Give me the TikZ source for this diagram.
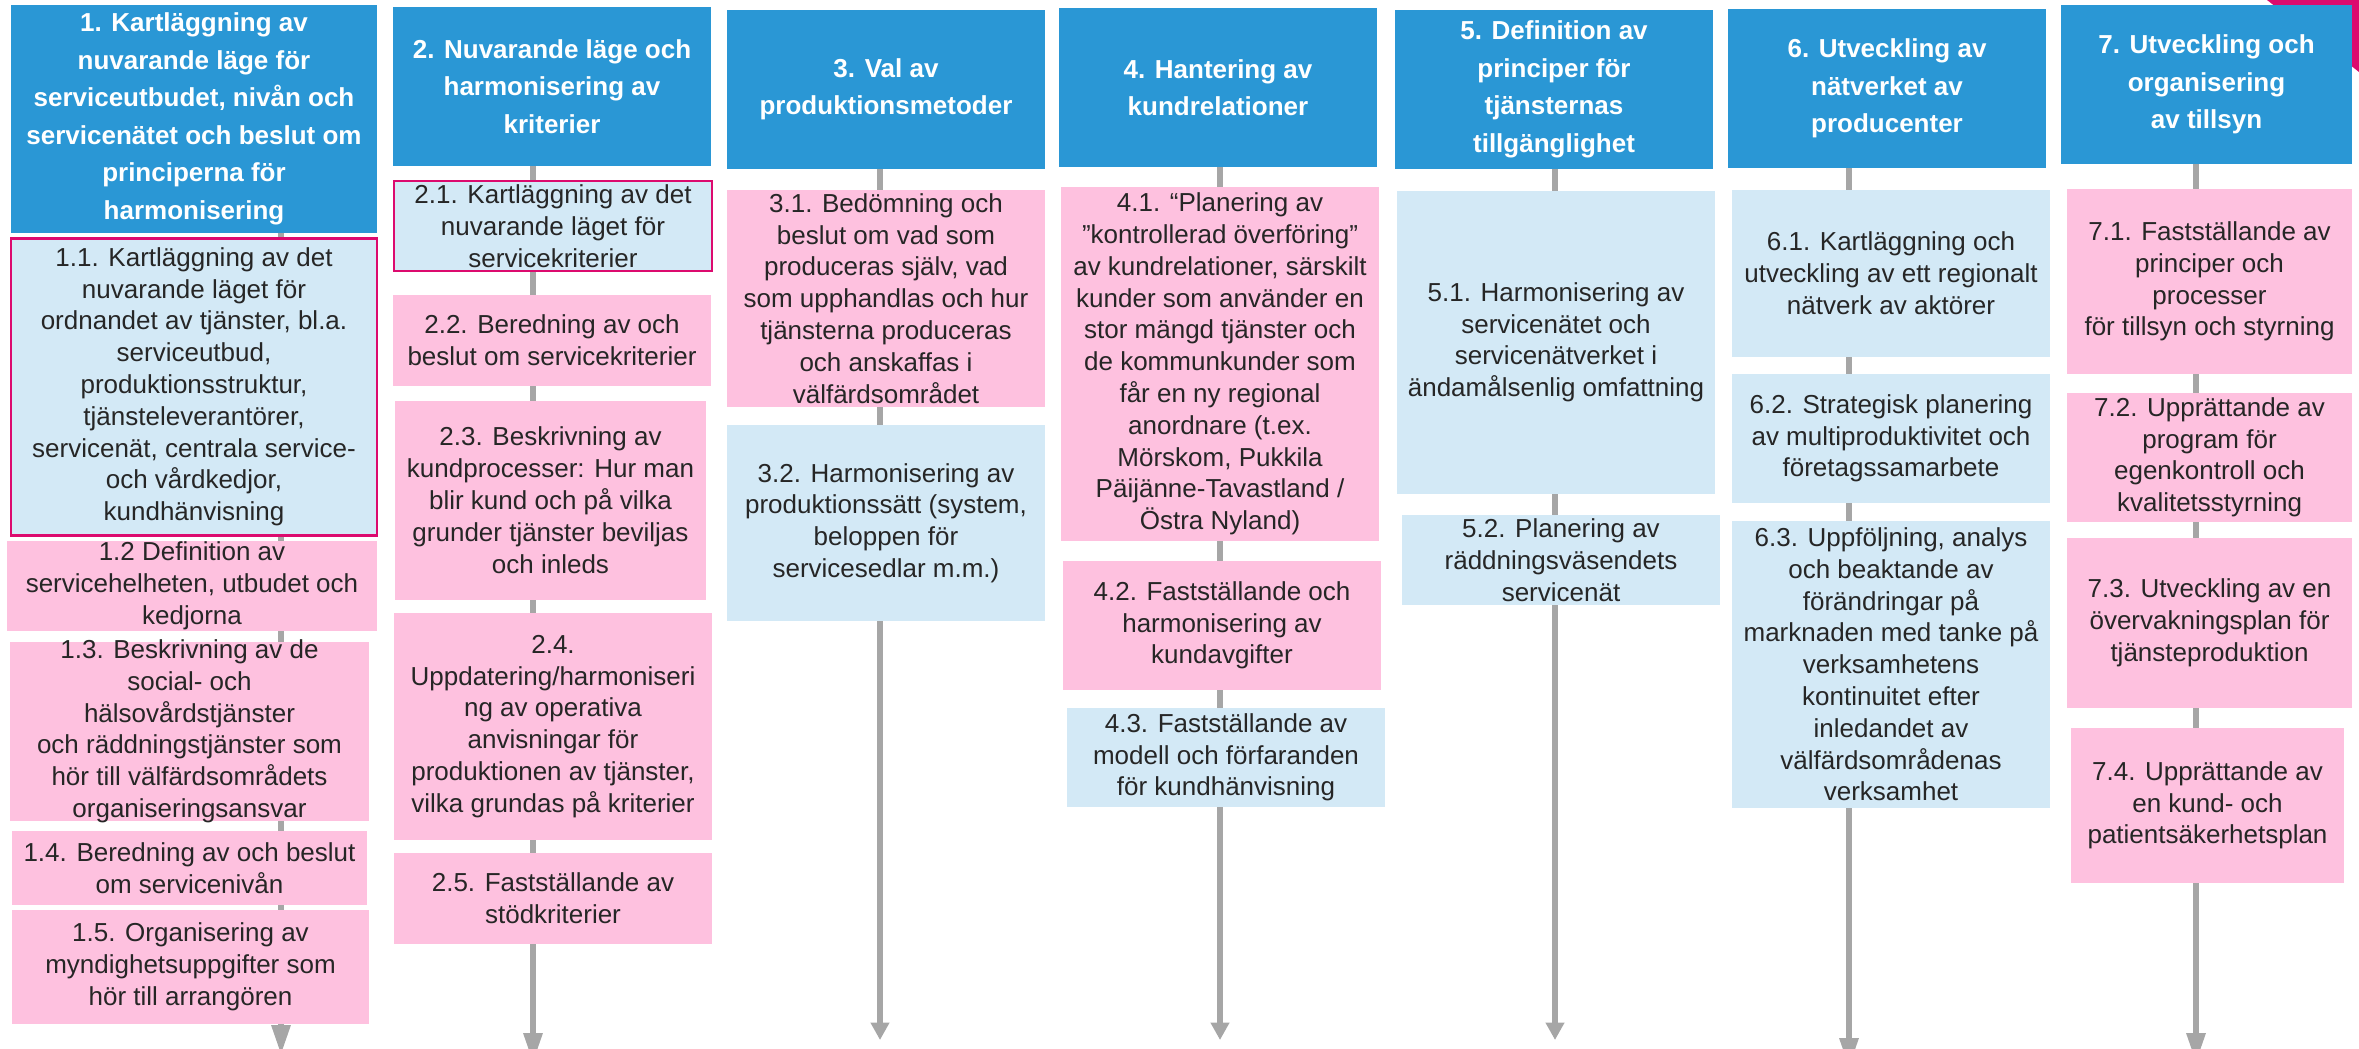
\documentclass[tikz,border=0pt]{standalone}
\usepackage{fontspec}
\setmainfont{Liberation Sans}
\usepackage{tikz}
\usetikzlibrary{arrows.meta, backgrounds}
\definecolor{myblue}{HTML}{2A97D5}
\definecolor{mypink}{HTML}{FEC1DF}
\definecolor{mylightblue}{HTML}{D3E9F6}
\definecolor{mymagenta}{HTML}{DC0A6E}
\definecolor{mygray}{HTML}{A6A6A6}
\definecolor{mytext}{HTML}{262626}
\newcommand\headfont{\bfseries\fontsize{26}{37.5}\selectfont}
\newcommand\cellfont{\fontsize{26}{31.8}\selectfont}
\tikzset{
  dims/.style 2 args={minimum width=#1, minimum height=#2},
  head/.style={fill=myblue, text=white, align=center, inner xsep=0pt, inner ysep=-4pt, font=\headfont},
  pinkcell/.style={fill=mypink, text=mytext, align=center, inner xsep=0pt, inner ysep=-4pt, font=\cellfont},
  bluecell/.style={fill=mylightblue, text=mytext, align=center, inner xsep=0pt, inner ysep=-4pt, font=\cellfont},
  marked/.style={draw=mymagenta, line width=2.5pt},
  flow/.style={draw=mygray, line width=6pt, -{Triangle[width=18pt,length=30pt]}},
  shortflow/.style={draw=mygray, line width=6pt, -{Triangle[width=18pt,length=17.5pt]}},
}

\begin{document}
\begin{tikzpicture}[x=1pt, y=-1pt]
\useasboundingbox (0,0) rectangle (2359,1049);
\fill[mymagenta] (2267,0) -- (2359,0) -- (2359,72) -- cycle;

\node[head, dims={366}{228}] (h1) at (194,119) {1. Kartläggning av\\nuvarande läge för\\serviceutbudet, nivån och\\servicenätet och beslut om\\principerna för\\harmonisering};
\node[bluecell, marked, dims={366}{297}] (b11) at (194,386.75) {1.1. Kartläggning av det\\nuvarande läget för\\ordnandet av tjänster, bl.a.\\serviceutbud,\\produktionsstruktur,\\tjänsteleverantörer,\\servicenät, centrala service-\\och vårdkedjor,\\kundhänvisning};
\node[pinkcell, dims={370}{90}] (b12) at (192,586) {1.2 Definition av\\servicehelheten, utbudet och\\kedjorna};
\node[pinkcell, dims={359}{179.5}] (b13) at (189.5,731.25) {1.3. Beskrivning av de\\social- och\\hälsovårdstjänster\\och räddningstjänster som\\hör till välfärdsområdets\\organiseringsansvar};
\node[pinkcell, dims={355}{74}] (b14) at (189.5,868) {1.4. Beredning av och beslut\\om servicenivån};
\node[pinkcell, dims={357}{114}] (b15) at (190.5,967) {1.5. Organisering av\\myndighetsuppgifter som\\hör till arrangören};
\coordinate (e1) at (281,1055);

\node[head, dims={318}{159}] (h2) at (552,86.5) {2. Nuvarande läge och\\harmonisering av\\kriterier};
\node[bluecell, marked, dims={318}{90}] (b21) at (553,226) {2.1. Kartläggning av det\\nuvarande läget för\\servicekriterier};
\node[pinkcell, dims={318}{90.7}] (b22) at (552,340.4) {2.2. Beredning av och\\beslut om servicekriterier};
\node[pinkcell, dims={311}{199.5}] (b23) at (550.5,500.25) {2.3. Beskrivning av\\kundprocesser: Hur man\\blir kund och på vilka\\grunder tjänster beviljas\\och inleds};
\node[pinkcell, dims={318}{227}] (b24) at (553,726.5) {2.4.\\Uppdatering/harmoniseri\\ng av operativa\\anvisningar för\\produktionen av tjänster,\\vilka grundas på kriterier};
\node[pinkcell, dims={318}{91}] (b25) at (553,898.5) {2.5. Fastställande av\\stödkriterier};
\coordinate (e2) at (533,1063);

\node[head, dims={318}{158.7}] (h3) at (886,89.35) {3. Val av\\produktionsmetoder};
\node[pinkcell, dims={318}{217}] (b31) at (886,298.5) {3.1. Bedömning och\\beslut om vad som\\produceras själv, vad\\som upphandlas och hur\\tjänsterna produceras\\och anskaffas i\\välfärdsområdet};
\node[bluecell, dims={318}{196}] (b32) at (886,523) {3.2. Harmonisering av\\produktionssätt (system,\\beloppen för\\servicesedlar m.m.)};
\coordinate (e3) at (880,1040);

\node[head, dims={318}{159}] (h4) at (1218,87.5) {4. Hantering av\\kundrelationer};
\node[pinkcell, dims={318}{354}] (b41) at (1220,364) {4.1. “Planering av\\”kontrollerad överföring”\\av kundrelationer, särskilt\\kunder som använder en\\stor mängd tjänster och\\de kommunkunder som\\får en ny regional\\anordnare (t.ex.\\Mörskom, Pukkila\\Päijänne-Tavastland /\\Östra Nyland)};
\node[pinkcell, dims={318}{128.7}] (b42) at (1222,625.35) {4.2. Fastställande och\\harmonisering av\\kundavgifter};
\node[bluecell, dims={318}{98.8}] (b43) at (1226,757.4) {4.3. Fastställande av\\modell och förfaranden\\för kundhänvisning};
\coordinate (e4) at (1220,1040);

\node[head, dims={318}{158.7}] (h5) at (1554,89.35) {5. Definition av\\principer för\\tjänsternas\\tillgänglighet};
\node[bluecell, dims={318}{302.5}] (b51) at (1556,342.25) {5.1. Harmonisering av\\servicenätet och\\servicenätverket i\\ändamålsenlig omfattning};
\node[bluecell, dims={318}{90}] (b52) at (1561,560) {5.2. Planering av\\räddningsväsendets\\servicenät};
\coordinate (e5) at (1555,1040);

\node[head, dims={318}{159}] (h6) at (1887,88.5) {6. Utveckling av\\nätverket av\\producenter};
\node[bluecell, dims={318}{166.7}] (b61) at (1891,273.35) {6.1. Kartläggning och\\utveckling av ett regionalt\\nätverk av aktörer};
\node[bluecell, dims={318}{128.8}] (b62) at (1891,438.4) {6.2. Strategisk planering\\av multiproduktivitet och\\företagssamarbete};
\node[bluecell, dims={318}{286.8}] (b63) at (1891,664.4) {6.3. Uppföljning, analys\\och beaktande av\\förändringar på\\marknaden med tanke på\\verksamhetens\\kontinuitet efter\\inledandet av\\välfärdsområdenas\\verksamhet};
\coordinate (e6) at (1849,1068);

\node[head, dims={291}{158.6}] (h7) at (2206.5,84.3) {7. Utveckling och\\organisering\\av tillsyn};
\node[pinkcell, dims={285}{185}] (b71) at (2209.5,281.5) {7.1. Fastställande av\\principer och\\processer\\för tillsyn och styrning};
\node[pinkcell, dims={285}{128.7}] (b72) at (2209.5,457.35) {7.2. Upprättande av\\program för\\egenkontroll och\\kvalitetsstyrning};
\node[pinkcell, dims={285}{169.6}] (b73) at (2209.5,622.8) {7.3. Utveckling av en\\övervakningsplan för\\tjänsteproduktion};
\node[pinkcell, dims={273}{154.7}] (b74) at (2207.5,805.35) {7.4. Upprättande av\\en kund- och\\patientsäkerhetsplan};
\coordinate (e7) at (2196,1063);

\begin{pgfonlayer}{background}
\draw[flow] (h1.south -| e1) -- (e1);
\draw[flow] (h2.south -| e2) -- (e2);
\draw[shortflow] (h3.south -| e3) -- (e3);
\draw[shortflow] (h4.south -| e4) -- (e4);
\draw[shortflow] (h5.south -| e5) -- (e5);
\draw[flow] (h6.south -| e6) -- (e6);
\draw[flow] (h7.south -| e7) -- (e7);
\end{pgfonlayer}
\end{tikzpicture}
\end{document}
